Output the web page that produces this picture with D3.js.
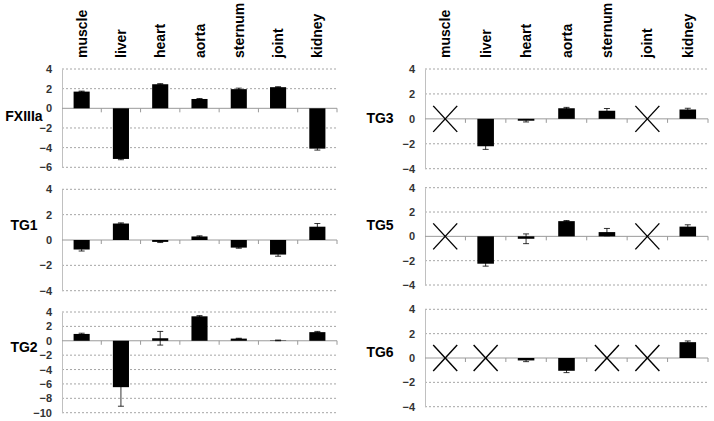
<!DOCTYPE html>
<html>
<head>
<meta charset="utf-8">
<script src="https://cdn.jsdelivr.net/npm/d3@7"></script>
<style>
  body { margin: 0; background: #fff; }
  text { font-family: Arial, "Liberation Sans", sans-serif; }
</style>
</head>
<body>
<svg id="chart" width="714" height="421"></svg>
<script>
// tissues along the top
const tissues = ["muscle", "liver", "heart", "aorta", "sternum", "joint", "kidney"];

// mean values per gene (null = not detected, drawn as a cross)
const fxiiiaVals = [1.7, -5.15, 2.45, 0.95, 1.95, 2.15, -4.1];
const fxiiiaErr  = [0.05, 0.08, 0.06, 0.05, 0.1, 0.05, 0.15];
const tg1Vals = [-0.75, 1.3, -0.15, 0.28, -0.6, -1.15, 1.05];
const tg1Err  = [0.12, 0.05, 0.05, 0.05, 0.05, 0.13, 0.25];
const tg2Vals = [0.95, -6.45, 0.35, 3.4, 0.3, 0.05, 1.2];
const tg2Err  = [0.1, 2.65, 0.95, 0.1, 0.05, 0.05, 0.1];
const tg3Vals = [null, -2.2, -0.15, 0.85, 0.65, null, 0.75];
const tg3Err  = [null, 0.25, 0.1, 0.07, 0.18, null, 0.1];
const tg5Vals = [null, -2.25, -0.2, 1.25, 0.35, null, 0.8];
const tg5Err  = [null, 0.2, 0.4, 0.05, 0.3, null, 0.15];
const tg6Vals = [null, null, -0.2, -1.05, null, null, 1.3];
const tg6Err  = [null, null, 0.1, 0.15, null, null, 0.1];

// tick labels of the y axes
const ticksShort = [4, 2, 0, -2, -4];
const ticksFx = [4, 2, 0, -2, -4, -6];
const ticksTg2 = [4, 2, 0, -2, -4, -6, -8, -10];

const svg = d3.select("#chart");

// layout of the two columns and six panels
const columns = [
    { x0: 62, x1: 337, labelX: 24, panels: [
        { name: "FXIIIa", vals: fxiiiaVals, err: fxiiiaErr, ticks: ticksFx, top: 69, bottom: 167.3, labelY: 116 },
        { name: "TG1", vals: tg1Vals, err: tg1Err, ticks: ticksShort, top: 189.3, bottom: 290.7, labelY: 225 },
        { name: "TG2", vals: tg2Vals, err: tg2Err, ticks: ticksTg2, top: 312, bottom: 412.7, labelY: 347 }
    ]},
    { x0: 425, x1: 708, labelX: 380, panels: [
        { name: "TG3", vals: tg3Vals, err: tg3Err, ticks: ticksShort, top: 69, bottom: 168.7, labelY: 118 },
        { name: "TG5", vals: tg5Vals, err: tg5Err, ticks: ticksShort, top: 187.7, bottom: 285, labelY: 225 },
        { name: "TG6", vals: tg6Vals, err: tg6Err, ticks: ticksShort, top: 309.3, bottom: 406.7, labelY: 352 }
    ]}
];

columns.forEach(col => {
    const x = d3.scaleBand().domain(tissues).range([col.x0, col.x1]).padding(0);
    const barW = x.bandwidth() * 0.41;

    // tissue names on top, rotated
    svg.append("g").selectAll("text")
        .data(tissues)
        .join("text")
        .attr("transform", d => `translate(${x(d) + x.bandwidth() / 2 + 5},58) rotate(-90)`)
        .attr("text-anchor", "start")
        .style("font-size", "14px")
        .style("font-weight", "bold")
        .attr("fill", "#000")
        .text(d => d);

    col.panels.forEach(p => {
        const tickVals = p.ticks;
        const y = d3.scaleLinear()
            .domain([d3.min(tickVals), d3.max(tickVals)])
            .range([p.bottom, p.top]);
        const g = svg.append("g");

        // dotted grid lines
        g.selectAll("line.grid")
            .data(tickVals.filter(t => t !== 0))
            .join("line")
            .attr("class", "grid")
            .attr("x1", col.x0).attr("x2", col.x1)
            .attr("y1", d => y(d)).attr("y2", d => y(d))
            .attr("stroke", "#a6a6a6")
            .attr("stroke-width", 1)
            .attr("stroke-dasharray", "2,2");

        // y axis
        const yAxis = d3.axisLeft(y).tickValues(tickVals).tickSize(0).tickPadding(10).tickFormat(d3.format("d"));
        const ga = g.append("g")
            .attr("transform", `translate(${col.x0},0)`)
            .call(yAxis);
        ga.select(".domain").attr("stroke", "#c0c0c0");
        ga.selectAll("text")
            .style("font-size", "11px")
            .style("font-weight", "bold")
            .style("font-family", "Arial, 'Liberation Sans', sans-serif")
            .attr("fill", "#333");

        // zero line with category ticks
        const xAxis = d3.axisBottom(x).tickSize(0).tickFormat("");
        g.append("line")
            .attr("x1", col.x0).attr("x2", col.x1)
            .attr("y1", y(0)).attr("y2", y(0))
            .attr("stroke", "#9a9a9a");
        g.selectAll("line.sep")
            .data(tissues.slice(1).concat(["end"]))
            .join("line")
            .attr("class", "sep")
            .attr("x1", d => d === "end" ? col.x1 : x(d))
            .attr("x2", d => d === "end" ? col.x1 : x(d))
            .attr("y1", y(0)).attr("y2", y(0) + 4)
            .attr("stroke", "#9a9a9a");

        const rows = tissues.map((t, i) => ({ t: t, v: p.vals[i], e: p.err[i] }));

        // bars
        g.selectAll("rect.bar")
            .data(rows.filter(d => d.v !== null))
            .join("rect")
            .attr("class", "bar")
            .attr("x", d => x(d.t) + x.bandwidth() / 2 - barW / 2)
            .attr("width", barW)
            .attr("y", d => y(Math.max(0, d.v)))
            .attr("height", d => Math.abs(y(d.v) - y(0)))
            .attr("fill", "#000");

        // error bars
        const eb = g.selectAll("g.err")
            .data(rows.filter(d => d.v !== null))
            .join("g")
            .attr("class", "err")
            .attr("transform", d => `translate(${x(d.t) + x.bandwidth() / 2},0)`);
        eb.append("line")
            .attr("y1", d => y(d.v - d.e)).attr("y2", d => y(d.v + d.e))
            .attr("stroke", "#000").attr("stroke-width", 0.8);
        eb.append("line")
            .attr("x1", -3).attr("x2", 3)
            .attr("y1", d => y(d.v + d.e)).attr("y2", d => y(d.v + d.e))
            .attr("stroke", "#000").attr("stroke-width", 0.8);
        eb.append("line")
            .attr("x1", -3).attr("x2", 3)
            .attr("y1", d => y(d.v - d.e)).attr("y2", d => y(d.v - d.e))
            .attr("stroke", "#000").attr("stroke-width", 0.8);

        // crosses for missing data
        const cx = g.selectAll("g.cross")
            .data(rows.filter(d => d.v === null))
            .join("g")
            .attr("class", "cross")
            .attr("transform", d => `translate(${x(d.t) + x.bandwidth() / 2},${y(0)})`);
        cx.append("line").attr("x1", -12).attr("y1", -13).attr("x2", 12).attr("y2", 13)
            .attr("stroke", "#000").attr("stroke-width", 1.4);
        cx.append("line").attr("x1", -12).attr("y1", 13).attr("x2", 12).attr("y2", -13)
            .attr("stroke", "#000").attr("stroke-width", 1.4);

        // gene label
        svg.append("text")
            .attr("x", col.labelX)
            .attr("y", p.labelY)
            .attr("dy", "0.35em")
            .attr("text-anchor", "middle")
            .style("font-size", "14px")
            .style("font-weight", "bold")
            .text(p.name);
    });
});
</script>
</body>
</html>
